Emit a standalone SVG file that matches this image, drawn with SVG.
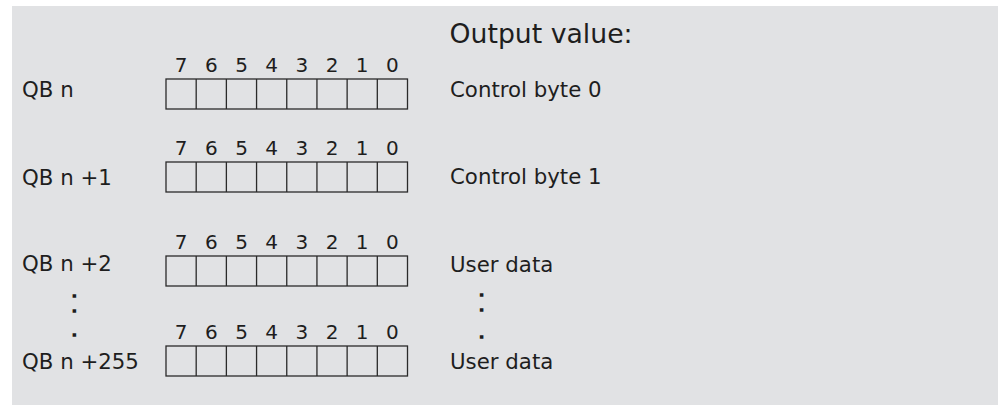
<svg xmlns="http://www.w3.org/2000/svg" width="998" height="405" viewBox="0 0 998 405">
<style>
.lbl{font-family:"DejaVu Sans",sans-serif;font-size:21.3px;fill:#1e1e1e}
.ttl{font-family:"DejaVu Sans",sans-serif;font-size:26.7px;fill:#1e1e1e}
.dig{font-family:"DejaVu Sans",sans-serif;font-size:20px;fill:#1e1e1e;text-anchor:middle}
.dot{font-family:"DejaVu Sans",sans-serif;font-weight:bold;font-size:11px;fill:#1e1e1e;stroke:#1e1e1e;stroke-width:1.6;text-anchor:middle}
.box{fill:none;stroke:#2a2a2a;stroke-width:1.3}
</style>
<defs>
<g id="byte">
<rect class="box" x="0" y="0" width="241.5" height="30"/>
<path class="box" d="M30.19 0V30M60.38 0V30M90.56 0V30M120.75 0V30M150.94 0V30M181.13 0V30M211.31 0V30"/>
<text class="dig" x="15.1" y="-7">7</text>
<text class="dig" x="45.3" y="-7">6</text>
<text class="dig" x="75.5" y="-7">5</text>
<text class="dig" x="105.7" y="-7">4</text>
<text class="dig" x="135.8" y="-7">3</text>
<text class="dig" x="166" y="-7">2</text>
<text class="dig" x="196.2" y="-7">1</text>
<text class="dig" x="226.4" y="-7">0</text>
</g>
</defs>
<rect x="12" y="6" width="986" height="399" fill="#e1e2e4"/>
<text class="ttl" x="449.5" y="43">Output value:</text>
<g id="row0">
<text class="lbl" x="22" y="96.5">QB n</text>
<use href="#byte" x="166" y="79"/>
<text class="lbl" x="450" y="97">Control byte 0</text>
</g>
<g id="row1">
<text class="lbl" x="22" y="184.5">QB n +1</text>
<use href="#byte" x="166" y="162"/>
<text class="lbl" x="450" y="184">Control byte 1</text>
</g>
<g id="row2">
<text class="lbl" x="22" y="270.5">QB n +2</text>
<use href="#byte" x="166" y="256"/>
<text class="lbl" x="450" y="271.5">User data</text>
</g>
<g id="ellipsis">
<text class="dot" x="74.3" y="297.2">.</text>
<text class="dot" x="74.3" y="311.9">.</text>
<text class="dot" x="74.3" y="335.5">.</text>
<text class="dot" x="481.7" y="296.2">.</text>
<text class="dot" x="481.7" y="311.2">.</text>
<text class="dot" x="481.7" y="337.9">.</text>
</g>
<g id="row3">
<text class="lbl" x="22" y="369">QB n +255</text>
<use href="#byte" x="166" y="346"/>
<text class="lbl" x="450" y="368.5">User data</text>
</g>
<g id="connectors"></g>
</svg>
